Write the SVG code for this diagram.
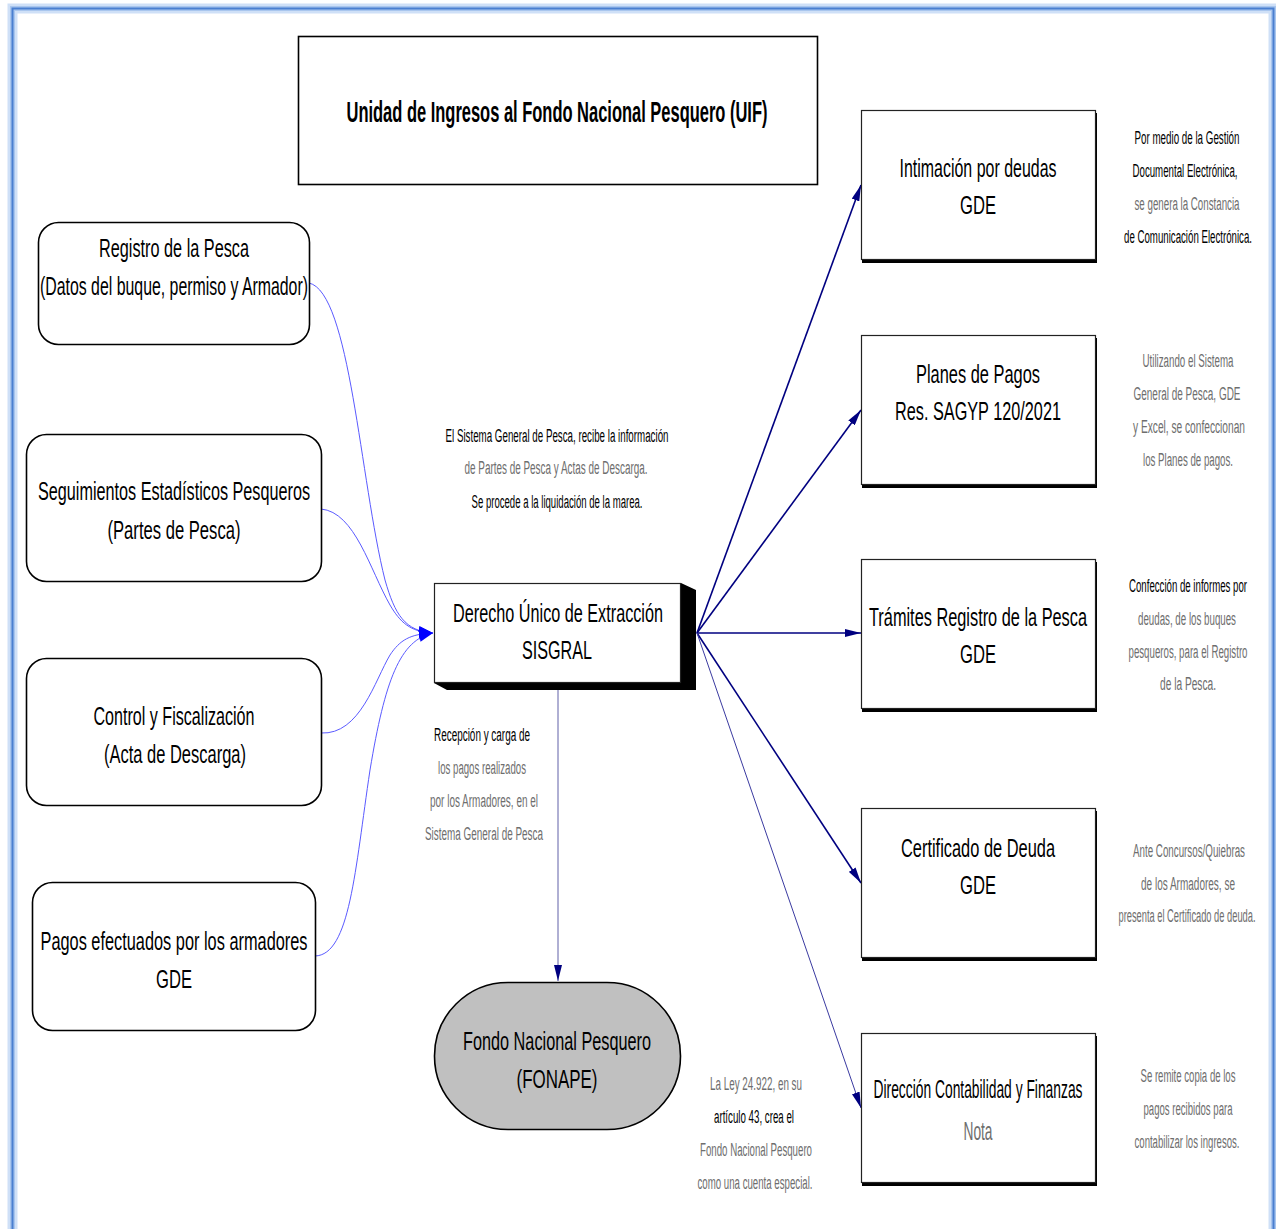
<svg xmlns="http://www.w3.org/2000/svg" width="1276" height="1229" viewBox="0 0 1276 1229">
<defs>
<style>
text{font-family:"Liberation Sans",Arial,sans-serif;text-anchor:middle}
.n{font-size:26px;fill:#000}
.t{font-size:29px;font-weight:bold;fill:#000}
.d{font-size:18px;fill:#000}
.g{font-size:18px;fill:#6e6e6e}
.rb{fill:#fff;stroke:#000;stroke-width:1.6}
.bx{fill:#fff;stroke:#222;stroke-width:1.2}
.in{fill:none;stroke:#5a5aff;stroke-width:1}
.out{fill:none;stroke:#000080;stroke-width:1.6}
</style>
<marker id="ab" viewBox="0 0 14 12" refX="14" refY="6" markerWidth="14" markerHeight="12" markerUnits="userSpaceOnUse" orient="auto">
<path d="M0,0 L14,6 L0,12 Z" fill="#0000ff"/>
</marker>
<marker id="an" viewBox="0 0 16 8" refX="16" refY="4" markerWidth="16" markerHeight="8" markerUnits="userSpaceOnUse" orient="auto">
<path d="M0,0 L16,4 L0,8 Z" fill="#000080"/>
</marker>
</defs>
<rect width="1276" height="1229" fill="#fff"/>
<g id="frame">
<rect x="12.5" y="8.5" width="1261" height="1240" fill="none" stroke="#cfe0f7" stroke-width="10"/>
<rect x="12.5" y="8.5" width="1261" height="1240" fill="none" stroke="#a9c6ee" stroke-width="5"/>
<rect x="12.5" y="8.5" width="1261" height="1240" fill="none" stroke="#4a7fd0" stroke-width="2"/>
</g>
<g id="connectors">
<path class="in" d="M309,283 C350,292 360,480 385,580 C395,615 405,631 433,633" marker-end="url(#ab)"/>
<path class="in" d="M321,509 C355,512 370,570 390,605 C400,622 410,632 433,633" marker-end="url(#ab)"/>
<path class="in" d="M321,733 C360,735 375,680 390,655 C400,640 410,634 433,633" marker-end="url(#ab)"/>
<path class="in" d="M315,956 C350,955 355,870 370,770 C385,680 400,640 433,633" marker-end="url(#ab)"/>
<path d="M558,690 L558,981" fill="none" stroke="#6060a8" stroke-width="1" marker-end="url(#an)"/>
<path class="out" d="M697,633 L861,185" marker-end="url(#an)"/>
<path class="out" d="M697,633 L861,410" marker-end="url(#an)"/>
<path class="out" d="M697,633 L861,633" marker-end="url(#an)"/>
<path class="out" d="M697,633 L861,883" marker-end="url(#an)"/>
<path d="M697,633 L861,1108" fill="none" stroke="#3a3aa0" stroke-width="1" marker-end="url(#an)"/>
</g>
<g id="title">
<rect x="298.5" y="36.5" width="519" height="148" fill="#fff" stroke="#000" stroke-width="1.6"/>
<text class="t" x="557" y="122" textLength="421" lengthAdjust="spacingAndGlyphs">Unidad de Ingresos al Fondo Nacional Pesquero (UIF)</text>
</g>
<g id="registro">
<rect class="rb" x="38.5" y="222.5" width="271" height="122" rx="20"/>
<text class="n" x="174" y="257" textLength="150" lengthAdjust="spacingAndGlyphs">Registro de la Pesca</text>
<text class="n" x="174" y="295" textLength="268" lengthAdjust="spacingAndGlyphs">(Datos del buque, permiso y Armador)</text>
</g>
<g id="seguimientos">
<rect class="rb" x="26.5" y="434.5" width="295" height="147" rx="20"/>
<text class="n" x="174" y="500" textLength="272" lengthAdjust="spacingAndGlyphs">Seguimientos Estadísticos Pesqueros</text>
<text class="n" x="174" y="539" textLength="133" lengthAdjust="spacingAndGlyphs">(Partes de Pesca)</text>
</g>
<g id="control">
<rect class="rb" x="26.5" y="658.5" width="295" height="147" rx="20"/>
<text class="n" x="174" y="725" textLength="161" lengthAdjust="spacingAndGlyphs">Control y Fiscalización</text>
<text class="n" x="175" y="763" textLength="142" lengthAdjust="spacingAndGlyphs">(Acta de Descarga)</text>
</g>
<g id="pagos">
<rect class="rb" x="32.5" y="882.5" width="283" height="148" rx="20"/>
<text class="n" x="174" y="950" textLength="267" lengthAdjust="spacingAndGlyphs">Pagos efectuados por los armadores</text>
<text class="n" x="174" y="988" textLength="36" lengthAdjust="spacingAndGlyphs">GDE</text>
</g>
<g id="derecho">
<polygon points="681,583 696,590 696,690 447,690 434,683 681,683" fill="#000"/>
<rect x="434.5" y="583.5" width="246" height="99" fill="#fff" stroke="#222" stroke-width="1.2"/>
<text class="n" x="558" y="622" textLength="210" lengthAdjust="spacingAndGlyphs">Derecho Único de Extracción</text>
<text class="n" x="557" y="659" textLength="70" lengthAdjust="spacingAndGlyphs">SISGRAL</text>
</g>
<g id="fonape">
<rect x="434.5" y="982.5" width="246" height="147" rx="73.5" fill="#c0c0c0" stroke="#000" stroke-width="1.6"/>
<text class="n" x="557" y="1050" textLength="188" lengthAdjust="spacingAndGlyphs">Fondo Nacional Pesquero</text>
<text class="n" x="557" y="1088" textLength="81" lengthAdjust="spacingAndGlyphs">(FONAPE)</text>
</g>
<g id="intimacion">
<rect x="862" y="113" width="235" height="150" fill="#000"/>
<rect class="bx" x="861.5" y="110.5" width="234" height="149"/>
<text class="n" x="978" y="177" textLength="157" lengthAdjust="spacingAndGlyphs">Intimación por deudas</text>
<text class="n" x="978" y="214" textLength="36" lengthAdjust="spacingAndGlyphs">GDE</text>
</g>
<g id="planes">
<rect x="862" y="338" width="235" height="150" fill="#000"/>
<rect class="bx" x="861.5" y="335.5" width="234" height="149"/>
<text class="n" x="978" y="383" textLength="124" lengthAdjust="spacingAndGlyphs">Planes de Pagos</text>
<text class="n" x="978" y="420" textLength="166" lengthAdjust="spacingAndGlyphs">Res. SAGYP 120/2021</text>
</g>
<g id="tramites">
<rect x="862" y="562" width="235" height="150" fill="#000"/>
<rect class="bx" x="861.5" y="559.5" width="234" height="149"/>
<text class="n" x="978" y="626" textLength="218" lengthAdjust="spacingAndGlyphs">Trámites Registro de la Pesca</text>
<text class="n" x="978" y="663" textLength="36" lengthAdjust="spacingAndGlyphs">GDE</text>
</g>
<g id="certificado">
<rect x="862" y="811" width="235" height="150" fill="#000"/>
<rect class="bx" x="861.5" y="808.5" width="234" height="149"/>
<text class="n" x="978" y="857" textLength="154" lengthAdjust="spacingAndGlyphs">Certificado de Deuda</text>
<text class="n" x="978" y="894" textLength="36" lengthAdjust="spacingAndGlyphs">GDE</text>
</g>
<g id="direccion">
<rect x="862" y="1036" width="235" height="150" fill="#000"/>
<rect class="bx" x="861.5" y="1033.5" width="234" height="149"/>
<text class="n" x="978" y="1098" textLength="209" lengthAdjust="spacingAndGlyphs">Dirección Contabilidad y Finanzas</text>
<text class="n" x="978" y="1140" fill="#6e6e6e" style="fill:#6e6e6e" textLength="29" lengthAdjust="spacingAndGlyphs">Nota</text>
</g>
<g id="notes">
<text class="d" x="1187" y="144" textLength="105" lengthAdjust="spacingAndGlyphs">Por medio de la Gestión</text>
<text class="d" x="1185" y="177" textLength="105" lengthAdjust="spacingAndGlyphs">Documental Electrónica,</text>
<text class="g" x="1187" y="210" textLength="105" lengthAdjust="spacingAndGlyphs">se genera la Constancia</text>
<text class="d" x="1188" y="243" textLength="128" lengthAdjust="spacingAndGlyphs">de Comunicación Electrónica.</text>

<text class="g" x="1188" y="367" textLength="91" lengthAdjust="spacingAndGlyphs">Utilizando el Sistema</text>
<text class="g" x="1187" y="400" textLength="107" lengthAdjust="spacingAndGlyphs">General de Pesca, GDE</text>
<text class="g" x="1189" y="433" textLength="112" lengthAdjust="spacingAndGlyphs">y Excel, se confeccionan</text>
<text class="g" x="1188" y="466" textLength="90" lengthAdjust="spacingAndGlyphs">los Planes de pagos.</text>

<text class="d" x="1188" y="592" textLength="118" lengthAdjust="spacingAndGlyphs">Confección de informes por</text>
<text class="g" x="1187" y="625" textLength="98" lengthAdjust="spacingAndGlyphs">deudas, de los buques</text>
<text class="g" x="1188" y="658" textLength="119" lengthAdjust="spacingAndGlyphs">pesqueros, para el Registro</text>
<text class="g" x="1188" y="690" textLength="56" lengthAdjust="spacingAndGlyphs">de la Pesca.</text>

<text class="g" x="1189" y="857" textLength="112" lengthAdjust="spacingAndGlyphs">Ante Concursos/Quiebras</text>
<text class="g" x="1188" y="890" textLength="94" lengthAdjust="spacingAndGlyphs">de los Armadores, se</text>
<text class="g" x="1187" y="922" textLength="137" lengthAdjust="spacingAndGlyphs">presenta el Certificado de deuda.</text>

<text class="g" x="1188" y="1082" textLength="95" lengthAdjust="spacingAndGlyphs">Se remite copia de los</text>
<text class="g" x="1188" y="1115" textLength="89" lengthAdjust="spacingAndGlyphs">pagos recibidos para</text>
<text class="g" x="1187" y="1148" textLength="105" lengthAdjust="spacingAndGlyphs">contabilizar los ingresos.</text>

<text class="d" x="557" y="442" textLength="223" lengthAdjust="spacingAndGlyphs">El Sistema General de Pesca, recibe la información</text>
<text class="g" x="556" y="474" textLength="183" lengthAdjust="spacingAndGlyphs">de Partes de Pesca y Actas de Descarga.</text>
<text class="d" x="557" y="508" textLength="171" lengthAdjust="spacingAndGlyphs">Se procede a la liquidación de la marea.</text>

<text class="d" x="482" y="741" textLength="96" lengthAdjust="spacingAndGlyphs">Recepción y carga de</text>
<text class="g" x="482" y="774" textLength="88" lengthAdjust="spacingAndGlyphs">los pagos realizados</text>
<text class="g" x="484" y="807" textLength="108" lengthAdjust="spacingAndGlyphs">por los Armadores, en el</text>
<text class="g" x="484" y="840" textLength="118" lengthAdjust="spacingAndGlyphs">Sistema General de Pesca</text>

<text class="g" x="756" y="1090" textLength="92" lengthAdjust="spacingAndGlyphs">La Ley 24.922, en su</text>
<text class="d" x="754" y="1123" textLength="80" lengthAdjust="spacingAndGlyphs">artículo 43, crea el</text>
<text class="g" x="756" y="1156" textLength="112" lengthAdjust="spacingAndGlyphs">Fondo Nacional Pesquero</text>
<text class="g" x="755" y="1189" textLength="115" lengthAdjust="spacingAndGlyphs">como una cuenta especial.</text>
</g>
</svg>
